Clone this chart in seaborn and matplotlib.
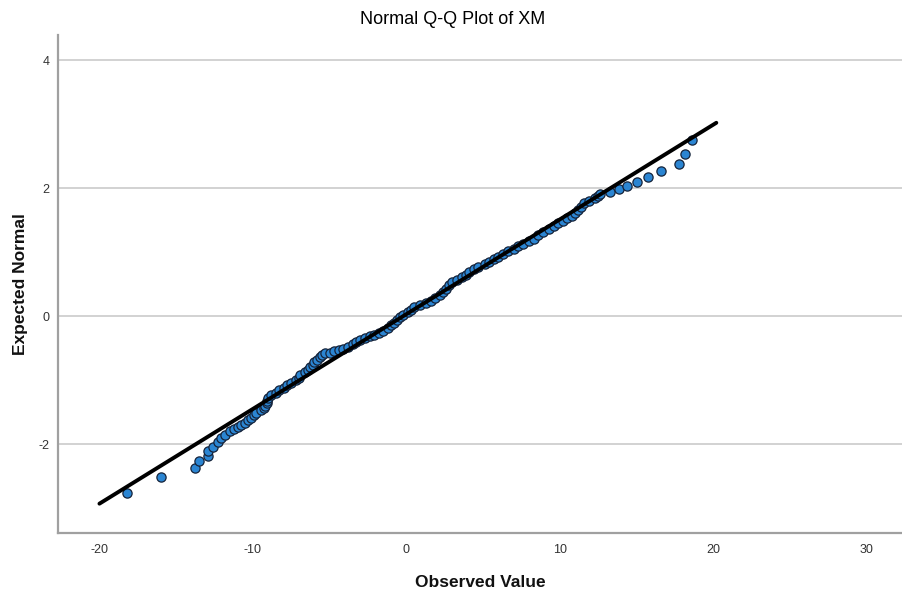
import matplotlib
matplotlib.use("Agg")
import matplotlib.pyplot as plt
import seaborn as sns
import pandas as pd

observed = [
    -18.2, -16.0, -13.8, -13.5, -12.95, -12.9, -12.6, -12.3, -12.1, -11.8,
    -11.5, -11.2, -11.0, -10.75, -10.5, -10.3, -10.1, -9.9, -9.8, -9.5,
    -9.3, -9.2, -9.1, -9.05, -9.0, -8.8, -8.5, -8.3, -8.0, -7.8,
    -7.5, -7.2, -7.0, -6.9, -6.6, -6.4, -6.25, -6.1, -6.0, -5.8,
    -5.65, -5.5, -5.3, -5.0, -4.7, -4.4, -4.1, -3.8, -3.5, -3.3,
    -3.0, -2.7, -2.4, -2.1, -1.8, -1.5, -1.2, -1.0, -0.8, -0.6,
    -0.4, -0.2, 0.1, 0.3, 0.5, 0.9, 1.3, 1.6, 1.9, 2.2,
    2.4, 2.6, 2.8, 3.0, 3.3, 3.6, 3.9, 4.1, 4.4, 4.7,
    5.1, 5.4, 5.7, 6.0, 6.3, 6.6, 7.0, 7.3, 7.6, 8.0,
    8.3, 8.6, 8.9, 9.3, 9.6, 9.9, 10.2, 10.5, 10.8, 11.0,
    11.2, 11.4, 11.6, 11.9, 12.3, 12.5, 12.6, 13.3, 13.85, 14.4,
    15.05, 15.75, 16.6, 17.8, 18.15, 18.6,
]
expected = [
    -2.76, -2.52, -2.37, -2.27, -2.19, -2.11, -2.04, -1.97, -1.91, -1.85,
    -1.80, -1.77, -1.74, -1.70, -1.67, -1.63, -1.59, -1.55, -1.51, -1.47,
    -1.44, -1.40, -1.36, -1.32, -1.28, -1.24, -1.20, -1.16, -1.12, -1.08,
    -1.04, -1.00, -0.96, -0.92, -0.88, -0.84, -0.80, -0.76, -0.72, -0.68,
    -0.64, -0.61, -0.58, -0.57, -0.55, -0.53, -0.51, -0.48, -0.44, -0.41,
    -0.38, -0.34, -0.31, -0.29, -0.27, -0.23, -0.18, -0.14, -0.10, -0.06,
    -0.02, 0.02, 0.06, 0.10, 0.14, 0.18, 0.21, 0.24, 0.28, 0.33,
    0.38, 0.43, 0.48, 0.53, 0.57, 0.61, 0.65, 0.69, 0.73, 0.77,
    0.81, 0.85, 0.89, 0.93, 0.97, 1.01, 1.05, 1.09, 1.13, 1.17,
    1.21, 1.26, 1.31, 1.36, 1.41, 1.45, 1.49, 1.53, 1.57, 1.61,
    1.66, 1.71, 1.76, 1.80, 1.84, 1.88, 1.91, 1.94, 1.99, 2.04,
    2.10, 2.17, 2.26, 2.38, 2.53, 2.75,
]

# Reference (normal) line end points
ref_x = [-20.0, 20.2]
ref_y = [-2.93, 3.02]

x_ticks = [-20, -10, 0, 10, 20, 30]
y_ticks = [-2, 0, 2, 4]

sns.set_theme(style="white")
plt.rcParams["font.family"] = ["Liberation Sans", "DejaVu Sans"]
plt.rcParams["axes.unicode_minus"] = False

fig = plt.figure(figsize=(9.02, 5.99), dpi=100)
ax = fig.add_axes([0.0643, 0.110, 0.9357, 0.8314])

for yt in y_ticks:
    ax.axhline(yt, color="#cfcfcf", lw=1.3, zorder=0)

pts = pd.DataFrame({"Observed Value": observed, "Expected Normal": expected})
line = pd.DataFrame({"x": ref_x, "y": ref_y})

sns.scatterplot(data=pts, x="Observed Value", y="Expected Normal", ax=ax,
                s=44, color="#2b85d2", edgecolor="#15233a", linewidth=0.9,
                zorder=3)
sns.lineplot(data=line, x="x", y="y", ax=ax, color="black", lw=2.8,
             zorder=4)

ax.set_xlim(-22.7, 32.3)
ax.set_ylim(-3.39, 4.39)
ax.set_xticks(x_ticks)
ax.set_yticks(y_ticks)
ax.tick_params(axis="both", length=0, labelsize=9, colors="#333333")
ax.tick_params(axis="x", pad=7.5)
ax.tick_params(axis="y", pad=6)

for s in ["top", "right"]:
    ax.spines[s].set_visible(False)
for s in ["left", "bottom"]:
    ax.spines[s].set_color("#a0a0a0")
    ax.spines[s].set_linewidth(1.6)

ax.set_xlabel("Observed Value", fontsize=12.5, fontweight="bold",
              color="#111111", labelpad=14)
ax.set_ylabel("Expected Normal", fontsize=12.5, fontweight="bold",
              color="#111111", labelpad=8)

fig.text(0.502, 0.968, "Normal Q-Q Plot of XM", ha="center", va="center",
         fontsize=13, color="#000000")

fig.savefig("out.png", dpi=100)
